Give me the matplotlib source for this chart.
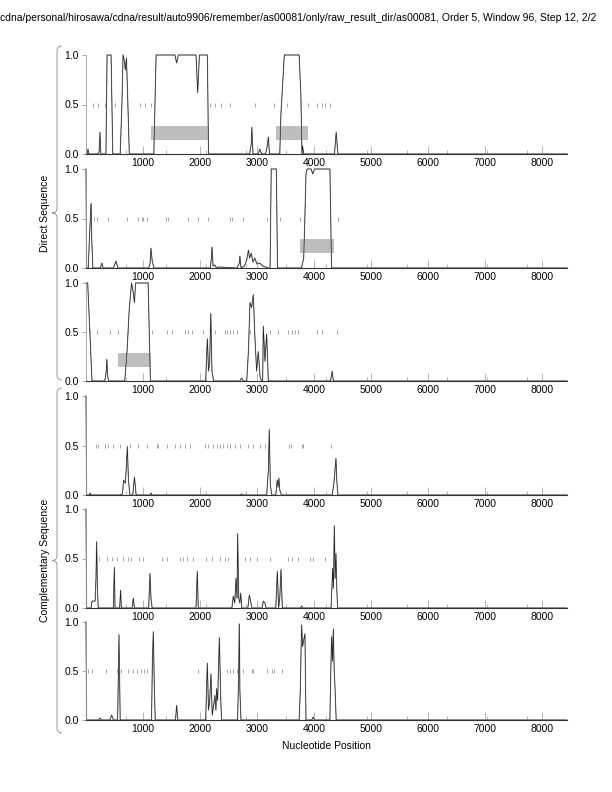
import numpy as np
import matplotlib.pyplot as plt
from matplotlib.path import Path
from matplotlib.patches import PathPatch, Rectangle

plt.rcParams['font.family'] = ['Liberation Sans', 'DejaVu Sans']

# sequence length and tick positions
seq_len = 8440
major_ticks = [1000, 2000, 3000, 4000, 5000, 6000, 7000, 8000]
minor_ticks = [703, 1406, 2109, 2812, 3516, 4219, 4922, 5625, 6328, 7031, 7734]

title = ("cdna/personal/hirosawa/cdna/result/auto9906/remember/as00081/only/"
         "raw_result_dir/as00081, Order 5, Window 96, Step 12, 2/2")

# --- traces (position, score) for the six frames ---
p1_x = [0, 20, 35, 50, 200, 230, 245, 260, 350, 370, 390, 440, 455, 470, 600, 630, 650, 670, 690,
        710, 730, 760, 1190, 1210, 1230, 1560, 1590, 1620, 1930, 1960, 1990, 2130, 2150, 2870, 2900,
        2910, 2930, 3020, 3050, 3080, 3150, 3180, 3200, 3220, 3400, 3420, 3480, 3740, 3770, 3790,
        3800, 3820, 4360, 4390, 4420, 8440]
p1_y = [0, 0, 0.05, 0, 0, 0.02, 0.22, 0, 0, 1.0, 1.0, 1.0, 0.5, 0, 0, 0.5, 1.0, 0.95, 0.85,
        0.97, 0.6, 0, 0, 0.5, 1.0, 1.0, 0.92, 1.0, 1.0, 0.62, 1.0, 1.0, 0, 0, 0.1,
        0.27, 0, 0, 0.05, 0, 0, 0.08, 0.17, 0, 0, 0.4, 1.0, 1.0, 0.6, 0,
        0.08, 0, 0, 0.22, 0, 0]

p2_x = [0, 10, 40, 60, 80, 90, 100, 120, 250, 280, 300, 480, 526, 560, 1100, 1125, 1140, 1160,
        1190, 2180, 2200, 2210, 2230, 2260, 2290, 2320, 2650, 2690, 2700, 2720, 2780, 2820, 2850,
        2870, 2900, 2930, 2960, 3000, 3050, 3100, 3200, 3230, 3250, 3340, 3360, 3780, 3820, 3840,
        3860, 3880, 3950, 3980, 4010, 4280, 4300, 4310, 8440]
p2_y = [1.0, 0.0, 0, 0.3, 0.55, 0.65, 0.3, 0, 0, 0.05, 0, 0, 0.07, 0, 0, 0.05, 0.2, 0.08,
        0, 0, 0.1, 0.21, 0.02, 0.03, 0, 0.01, 0, 0.05, 0.12, 0, 0.02, 0.08, 0.18,
        0.1, 0.15, 0.06, 0.1, 0.04, 0.05, 0.02, 0, 0, 1.0, 1.0, 0, 0, 0.1, 0.5,
        0.95, 1.0, 1.0, 0.95, 1.0, 1.0, 0.3, 0, 0]

p3_x = [0, 30, 60, 105, 120, 330, 355, 365, 380, 400, 680, 720, 760, 800, 830, 850, 870, 890,
        1090, 1110, 1130, 2100, 2120, 2130, 2150, 2170, 2190, 2210, 2240, 2700, 2730, 2760, 2820,
        2850, 2877, 2906, 2936, 2960, 2994, 3023, 3053, 3080, 3100, 3111, 3140, 3170, 3199, 4290,
        4320, 4340, 8440]
p3_y = [1.0, 1.0, 0.6, 0, 0, 0, 0.1, 0.22, 0.05, 0, 0, 0.3, 0.75, 1.0, 0.9, 0.8, 1.0, 1.0,
        1.0, 0.5, 0, 0, 0.3, 0.43, 0.1, 0.2, 0.69, 0.1, 0, 0, 0.03, 0, 0,
        0.3, 0.8, 0.75, 0.88, 0.5, 0.1, 0.3, 0.05, 0, 0, 0.56, 0.2, 0.48, 0, 0,
        0.1, 0, 0]

p4_x = [0, 10, 60, 70, 90, 600, 640, 660, 690, 710, 725, 745, 770, 820, 850, 880, 1120, 1140,
        1160, 2700, 2730, 2760, 3170, 3200, 3216, 3235, 3260, 3330, 3355, 3370, 3385, 3400, 3430,
        4320, 4350, 4386, 4400, 4420, 8440]
p4_y = [1.0, 0, 0, 0.02, 0, 0, 0.01, 0.15, 0.12, 0.3, 0.49, 0.15, 0, 0, 0.18, 0, 0, 0.02,
        0, 0, 0.01, 0, 0, 0.25, 0.66, 0.1, 0, 0, 0.15, 0.08, 0.17, 0.05, 0,
        0, 0.12, 0.37, 0.15, 0, 0]

p5_x = [0, 10, 90, 105, 160, 175, 187, 200, 215, 300, 480, 497, 510, 590, 608, 620, 810, 830,
        850, 1100, 1123, 1140, 1160, 1930, 1953, 1970, 2560, 2585, 2610, 2632, 2650, 2661, 2680,
        2700, 2714, 2735, 2840, 2866, 2885, 2910, 3090, 3111, 3140, 3160, 3330, 3357, 3380, 3400,
        3421, 3445, 3760, 3784, 3800, 4300, 4328, 4342, 4357, 4372, 4386, 4400, 4415, 8440]
p5_y = [1.0, 0, 0, 0.07, 0.07, 0.3, 0.67, 0.2, 0, 0, 0, 0.41, 0, 0, 0.18, 0, 0, 0.1,
        0, 0, 0.35, 0.1, 0, 0, 0.37, 0, 0, 0.12, 0.05, 0.3, 0.1, 0.75, 0.1,
        0.05, 0.15, 0, 0, 0.13, 0.08, 0, 0, 0.07, 0.05, 0, 0, 0.37, 0, 0.1,
        0.39, 0, 0, 0.02, 0, 0, 0.4, 0.2, 0.83, 0.3, 0.55, 0.2, 0, 0]

p6_x = [0, 10, 220, 245, 270, 420, 450, 480, 555, 579, 600, 1150, 1165, 1181, 1200, 1215, 1570,
        1591, 1610, 2100, 2129, 2150, 2170, 2193, 2215, 2240, 2263, 2280, 2292, 2310, 2340, 2365,
        2380, 2660, 2680, 2690, 2700, 2720, 3740, 3760, 3770, 3784, 3800, 3815, 3842, 3860, 3960,
        3988, 4010, 4280, 4295, 4310, 4325, 4340, 4355, 4368, 4390, 4415, 8440]
p6_y = [1.0, 0, 0, 0.02, 0, 0, 0.05, 0, 0, 0.87, 0, 0, 0.6, 0.9, 0.3, 0, 0,
        0.15, 0, 0, 0.58, 0.1, 0.2, 0.47, 0.05, 0.15, 0.25, 0.1, 0.32, 0.2, 0.84, 0.2,
        0, 0, 0.5, 0.98, 0.3, 0, 0, 0.3, 0.6, 0.97, 0.75, 0.8, 0.88, 0, 0,
        0.03, 0, 0, 0.5, 0.85, 0.6, 0.93, 0.5, 0.35, 0, 0, 0]

# short marks drawn at 0.5
p1_marks = [123, 210, 333, 509, 719, 947, 1035, 1140, 2175, 2263, 2368, 2526, 2965, 3298, 3526,
            3895, 4052, 4140, 4193, 4280]
p2_marks = [146, 187, 392, 713, 918, 976, 1006, 1064, 1398, 1444, 1795, 1971, 2146, 2526, 2556,
            2760, 3170, 3404, 3754, 4421]
p3_marks = [70, 187, 421, 567, 742, 1152, 1415, 1503, 1737, 1795, 1854, 2058, 2263, 2439, 2468,
            2526, 2585, 2643, 2877, 3111, 3228, 3374, 3550, 3608, 3667, 3725, 4047, 4135, 4409]
p4_marks = [175, 216, 333, 392, 480, 596, 772, 918, 1064, 1240, 1269, 1415, 1561, 1649, 1737,
            1825, 2088, 2146, 2234, 2292, 2351, 2409, 2468, 2526, 2614, 2702, 2848, 2936, 3053,
            3140, 3567, 3597, 3784, 3813, 4298]
p5_marks = [234, 363, 450, 549, 655, 742, 784, 930, 1006, 1339, 1415, 1649, 1708, 1766, 1883,
            2105, 2205, 2351, 2439, 2497, 2790, 2877, 2994, 3228, 3550, 3608, 3725, 3930, 3988,
            4193]
p6_marks = [40, 100, 351, 538, 608, 742, 819, 889, 959, 1018, 1064, 1959, 2468, 2526, 2585,
            2643, 2760, 2918, 2936, 3170, 3258, 3298, 3433]

# gray boxes (start, end, low, high)
p1_boxes = [(1140, 2158, 0.14, 0.28), (3333, 3895, 0.14, 0.28)]
p2_boxes = [(3754, 4351, 0.15, 0.29)]
p3_boxes = [(561, 1140, 0.145, 0.285)]

traces = [(p1_x, p1_y), (p2_x, p2_y), (p3_x, p3_y), (p4_x, p4_y), (p5_x, p5_y), (p6_x, p6_y)]
marks = [p1_marks, p2_marks, p3_marks, p4_marks, p5_marks, p6_marks]
boxes = [p1_boxes, p2_boxes, p3_boxes, [], [], []]

W, H = 612, 792
fig = plt.figure(figsize=(W / 100, H / 100), dpi=100)

tops = [55, 169, 283, 396, 509, 622]
bots = [154, 268, 381, 495, 608, 720]
left, right = 86, 567
fs = 7.5

for i in range(6):
    ax = fig.add_axes([left / W, 1 - bots[i] / H, (right - left) / W, (bots[i] - tops[i]) / H])
    ax.set_xlim(0, seq_len)
    ax.set_ylim(0, 1)
    for (a, b, lo, hi) in boxes[i]:
        ax.add_patch(Rectangle((a, lo), b - a, hi - lo, facecolor='#bebebe', edgecolor='none'))
    ax.plot(marks[i], [0.5] * len(marks[i]), ls='none', marker='|', ms=3.5, mew=0.6, color='#999999')
    x, y = traces[i]
    ax.plot(x, y, color='#b0b0b0', lw=0.9, clip_on=False)
    ax.plot(x, y, color='#1a1a1a', lw=0.45, clip_on=False)
    for s in ['top', 'right']:
        ax.spines[s].set_visible(False)
    ax.spines['bottom'].set_color('#333333')
    ax.spines['bottom'].set_linewidth(0.8)
    ax.spines['left'].set_color('#999999')
    ax.spines['left'].set_linewidth(0.6)
    ax.set_xticks(major_ticks)
    ax.set_xticks(minor_ticks, minor=True)
    ax.set_yticks([0, 0.5, 1.0])
    ax.set_yticklabels(['0.0', '0.5', '1.0'])
    ax.tick_params(axis='x', which='major', direction='in', length=6, width=0.6,
                   color='#aaaaaa', labelsize=fs, pad=3)
    ax.tick_params(axis='x', which='minor', direction='in', length=3, width=0.6, color='#aaaaaa')
    ax.tick_params(axis='y', direction='out', length=3, width=0.6, color='#999999',
                   labelsize=fs, pad=2)
    ax.patch.set_alpha(0)

# braces and side labels on an overlay in pixel units
ov = fig.add_axes([0, 0, 1, 1])
ov.set_xlim(0, W)
ov.set_ylim(H, 0)
ov.axis('off')


def brace(y0, y1, xm=57, r=5):
    ym = (y0 + y1) / 2
    verts = [(xm + r, y0), (xm, y0), (xm, y0 + r),
             (xm, ym - r), (xm, ym), (xm - r, ym),
             (xm, ym), (xm, ym + r),
             (xm, y1 - r), (xm, y1), (xm + r, y1)]
    codes = [Path.MOVETO, Path.CURVE3, Path.CURVE3,
             Path.LINETO, Path.CURVE3, Path.CURVE3,
             Path.CURVE3, Path.CURVE3,
             Path.LINETO, Path.CURVE3, Path.CURVE3]
    ov.add_patch(PathPatch(Path(verts, codes), facecolor='none', edgecolor='#999999', lw=0.7))


brace(46, 380)
brace(388, 733)
ov.text(45, 213, 'Direct Sequence', rotation=90, ha='center', va='center', fontsize=fs)
ov.text(45, 560, 'Complementary Sequence', rotation=90, ha='center', va='center', fontsize=fs)
ov.text(326, 746, 'Nucleotide Position', ha='center', va='center', fontsize=fs)
ov.text(596, 18, title, ha='right', va='center', fontsize=fs)

fig.savefig('out.png', dpi=100)
